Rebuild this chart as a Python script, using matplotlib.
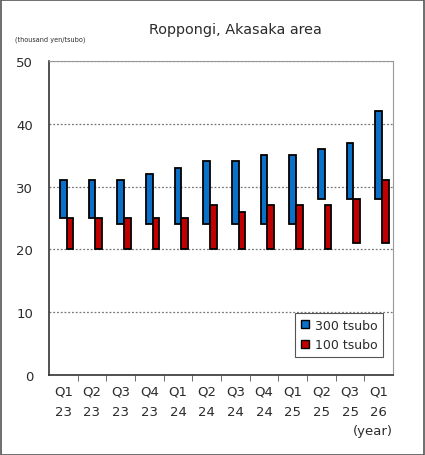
import numpy as np
import matplotlib.pyplot as plt
from matplotlib.patches import Patch

quarters = ["Q1\n23", "Q2\n23", "Q3\n23", "Q4\n23", "Q1\n24", "Q2\n24",
            "Q3\n24", "Q4\n24", "Q1\n25", "Q2\n25", "Q3\n25", "Q1\n26"]
t300_low = [25, 25, 24, 24, 24, 24, 24, 24, 24, 28, 28, 28]
t300_high = [31, 31, 31, 32, 33, 34, 34, 35, 35, 36, 37, 42]
t100_low = [20, 20, 20, 20, 20, 20, 20, 20, 20, 20, 21, 21]
t100_high = [25, 25, 25, 25, 25, 27, 26, 27, 27, 27, 28, 31]

blue = "#0A70C8"
red = "#C00000"
txt = "#2b2b2b"

fig = plt.figure(figsize=(4.25, 4.56), dpi=100)
ax = fig.add_axes([49/425, 1-376/456, (393-49)/425, (376-62)/456])

x = np.arange(len(quarters))
w = 0.235
lo3 = np.array(t300_low); hi3 = np.array(t300_high)
lo1 = np.array(t100_low); hi1 = np.array(t100_high)
ax.bar(x, hi3 - lo3, bottom=lo3, width=w, color=blue, edgecolor="black", linewidth=1.3, zorder=3)
ax.bar(x + w, hi1 - lo1, bottom=lo1, width=w, color=red, edgecolor="black", linewidth=1.3, zorder=3)

ax.set_xlim(-0.5, len(quarters) - 0.5)
ax.set_ylim(0, 50)
ax.set_yticks([0, 10, 20, 30, 40, 50])
ax.set_xticks(x)
ax.set_xticklabels(quarters, linespacing=1.75)
ax.set_xticks(np.arange(0.5, len(quarters) - 0.5, 1), minor=True)
ax.tick_params(axis="x", which="major", length=0, pad=7, labelsize=9.5)
ax.tick_params(axis="x", which="minor", length=4, direction="out", color="#555555")
ax.tick_params(axis="y", length=0, pad=11.5, labelsize=9.5)
for lab in ax.get_xticklabels() + ax.get_yticklabels():
    lab.set_color(txt)

ax.grid(axis="y", linestyle=(0, (1.5, 1.5)), color="#777777", linewidth=0.9, zorder=0)
for s in ["top", "right"]:
    ax.spines[s].set_color("#999999")
for s in ["left", "bottom"]:
    ax.spines[s].set_color("#333333")
    ax.spines[s].set_linewidth(1.2)

handles = [Patch(facecolor=blue, edgecolor="black"), Patch(facecolor=red, edgecolor="black")]
leg = ax.legend(handles, ["300 tsubo", "100 tsubo"], loc="lower right",
                bbox_to_anchor=(0.971, 0.057), borderaxespad=0, fontsize=9,
                handlelength=0.6, handleheight=0.6, handletextpad=0.5, borderpad=0.45,
                labelspacing=0.55, fancybox=False, edgecolor="#555555", framealpha=1)
leg.get_frame().set_linewidth(0.8)
for t in leg.get_texts():
    t.set_color(txt)

fig.text(235.5/425, 1-30/456, "Roppongi, Akasaka area", ha="center", va="center",
         fontsize=10.4, color=txt)
fig.text(15/425, 1-40/456, "(thousand yen/tsubo)", ha="left", va="center",
         fontsize=4.7, color=txt)
fig.text(393/425, 1-432/456, "(year)", ha="right", va="center", fontsize=9.5, color=txt)

fig.patches.append(plt.Rectangle((0.5/425, 0.5/456), 1 - 1.5/425, 1 - 1.5/456,
                                 transform=fig.transFigure, fill=False,
                                 edgecolor="#555555", linewidth=1.2))

fig.savefig("out.png", dpi=100)
